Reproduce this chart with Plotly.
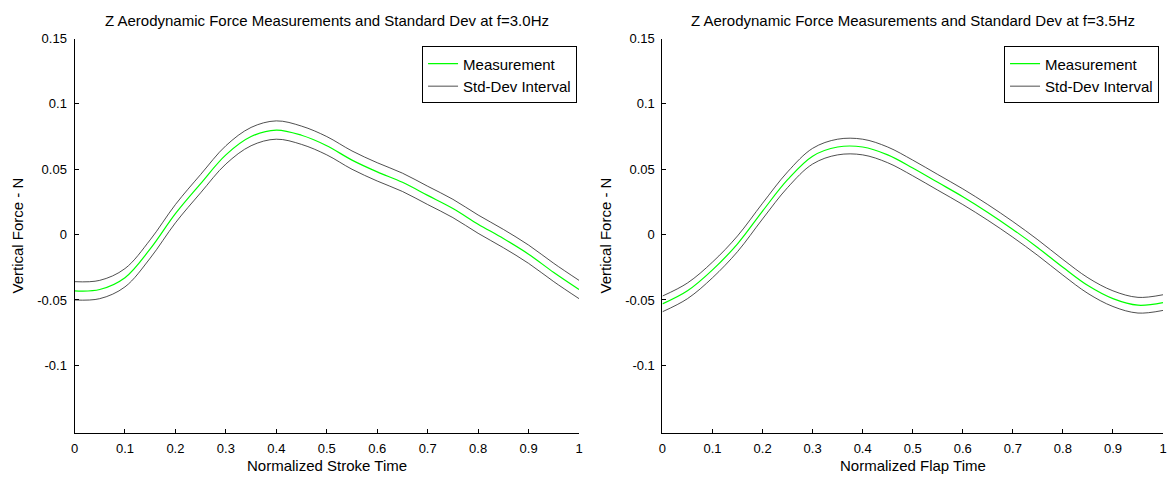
import plotly.graph_objects as go

# ---- data ----
t = [0.00, 0.05, 0.10, 0.15, 0.20, 0.25, 0.30, 0.35, 0.40, 0.45, 0.50,
     0.55, 0.60, 0.65, 0.70, 0.75, 0.80, 0.85, 0.90, 0.95, 1.00]

meas_30 = [-0.043, -0.042, -0.033, -0.011, 0.016, 0.039, 0.061, 0.075, 0.080, 0.076, 0.068,
           0.057, 0.048, 0.040, 0.030, 0.020, 0.008, -0.003, -0.015, -0.029, -0.042]
std_30 = [0.007, 0.007, 0.007, 0.007, 0.007, 0.007, 0.007, 0.007, 0.007, 0.007, 0.007,
          0.007, 0.007, 0.007, 0.007, 0.007, 0.007, 0.007, 0.007, 0.007, 0.007]

meas_35 = [-0.053, -0.043, -0.027, -0.007, 0.018, 0.042, 0.060, 0.067, 0.067, 0.061, 0.051,
           0.040, 0.029, 0.017, 0.004, -0.010, -0.025, -0.039, -0.049, -0.054, -0.052]
std_35 = [0.006, 0.006, 0.006, 0.006, 0.006, 0.006, 0.006, 0.006, 0.006, 0.006, 0.006,
          0.006, 0.006, 0.006, 0.006, 0.006, 0.006, 0.006, 0.006, 0.006, 0.006]

x_ticks = [0, 0.1, 0.2, 0.3, 0.4, 0.5, 0.6, 0.7, 0.8, 0.9, 1]
x_tick_text = ["0", "0.1", "0.2", "0.3", "0.4", "0.5", "0.6", "0.7", "0.8", "0.9", "1"]
y_ticks = [-0.1, -0.05, 0, 0.05, 0.1, 0.15]
y_tick_text = ["-0.1", "-0.05", "0", "0.05", "0.1", "0.15"]

titles = ["Z Aerodynamic Force Measurements and Standard Dev at f=3.0Hz",
          "Z Aerodynamic Force Measurements and Standard Dev at f=3.5Hz"]
x_titles = ["Normalized Stroke Time", "Normalized Flap Time"]
y_title = "Vertical Force - N"

FONT = "Liberation Sans, Arial, sans-serif"
GREEN = "#00FF00"
TICK_SIZE = 13
LABEL_SIZE = 15
TITLE_SIZE = 15
LEGEND_SIZE = 15

fig = go.Figure()

panels = [(meas_30, std_30, "x", "y", "legend"), (meas_35, std_35, "x2", "y2", "legend2")]
for meas, std, xa, ya, lg in panels:
    upper = [m + s for m, s in zip(meas, std)]
    lower = [m - s for m, s in zip(meas, std)]
    fig.add_trace(go.Scatter(x=t, y=meas, mode="lines", name="Measurement",
                             line=dict(color=GREEN, width=1.2, shape="spline"),
                             xaxis=xa, yaxis=ya, legend=lg))
    fig.add_trace(go.Scatter(x=t, y=upper, mode="lines", name="Std-Dev Interval",
                             line=dict(color="#222222", width=0.8, shape="spline"),
                             xaxis=xa, yaxis=ya, legend=lg))
    fig.add_trace(go.Scatter(x=t, y=lower, mode="lines", name="Std-Dev Interval",
                             showlegend=False,
                             line=dict(color="#222222", width=0.8, shape="spline"),
                             xaxis=xa, yaxis=ya, legend=lg))

W, H = 1167, 477
xd1 = [71 / W, 579 / W]
xd2 = [663 / W, 1.0]
yd = [1 - 432 / H, 1 - 32 / H]

axis_common = dict(showline=True, linecolor="black", linewidth=1, mirror=False,
                   ticks="inside", ticklen=4, tickcolor="black", tickwidth=1,
                   showgrid=False, zeroline=False, ticklabelstandoff=4,
                   tickfont=dict(family=FONT, size=TICK_SIZE, color="black"))

legend_common = dict(xanchor="right", yanchor="top",
                     bgcolor="white", bordercolor="black", borderwidth=1,
                     font=dict(family=FONT, size=LEGEND_SIZE, color="black"))

fig.update_layout(
    width=W, height=H,
    margin=dict(l=0, r=0, t=0, b=0),
    paper_bgcolor="white", plot_bgcolor="white",
    font=dict(family=FONT, size=12, color="black"),
    xaxis=dict(domain=xd1, range=[0, 1], tickvals=x_ticks, ticktext=x_tick_text,
               anchor="y", **axis_common),
    yaxis=dict(domain=yd, range=[-0.1515, 0.15], tickvals=y_ticks, ticktext=y_tick_text,
               anchor="x", **axis_common),
    xaxis2=dict(domain=xd2, range=[0, 1], tickvals=x_ticks, ticktext=x_tick_text,
                anchor="y2", **axis_common),
    yaxis2=dict(domain=yd, range=[-0.1515, 0.15], tickvals=y_ticks, ticktext=y_tick_text,
                anchor="x2", **axis_common),
    legend=dict(x=577 / W, y=1 - 40 / H, **legend_common),
    legend2=dict(x=1163 / W, y=1 - 40 / H, **legend_common),
    showlegend=True,
)

centers = [(xd1[0] + xd1[1]) / 2, (xd2[0] + 1167 / W) / 2]
for i, c in enumerate(centers):
    fig.add_annotation(text=titles[i], xref="paper", yref="paper", x=c, y=1 - 14 / H,
                       showarrow=False, xanchor="center", yanchor="middle",
                       font=dict(family=FONT, size=TITLE_SIZE, color="black"))
    fig.add_annotation(text=x_titles[i], xref="paper", yref="paper", x=c, y=1 - 465 / H,
                       showarrow=False, xanchor="center", yanchor="middle",
                       font=dict(family=FONT, size=LABEL_SIZE, color="black"))

for xpix in [14, 606]:
    fig.add_annotation(text=y_title, xref="paper", yref="paper", x=xpix / W, y=1 - 232 / H,
                       showarrow=False, textangle=-90, xanchor="center", yanchor="middle",
                       font=dict(family=FONT, size=LABEL_SIZE, color="black"))

fig.write_html("out.html")
